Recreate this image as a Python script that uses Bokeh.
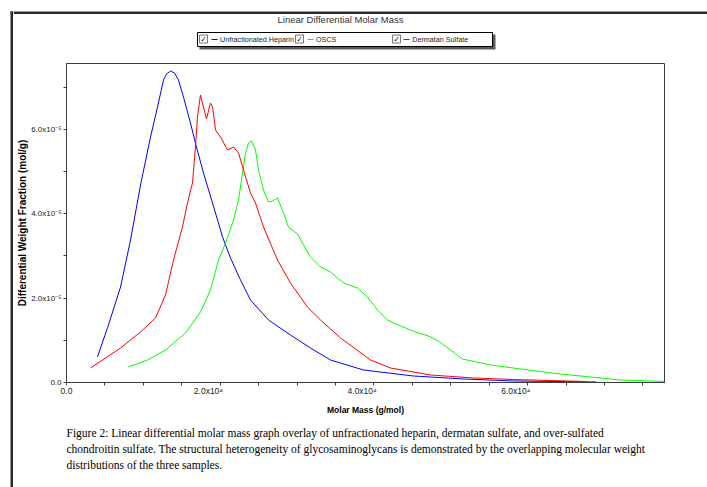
from bokeh.plotting import figure
from bokeh.models import Range1d, FixedTicker, Legend, LegendItem, Label, BoxAnnotation
from bokeh.layouts import row, column
from bokeh.embed import file_html
from bokeh.resources import INLINE

# ---------------- data (molar mass in g/mol, weight fraction in units of 1e-5 mol/g) ----------------
heparin_mm = [4030, 5460, 7030, 8330, 9630, 10930, 11840, 12620, 13010, 13530, 14050, 14570,
              15220, 16130, 16910, 17820, 19000, 20300, 21340, 22640, 23940, 26280, 29140,
              31740, 34350, 38640, 45150, 51650, 58160, 63620, 68950]
heparin_dw = [0.604, 1.363, 2.263, 3.377, 4.680, 5.818, 6.528, 7.168, 7.310, 7.382, 7.334, 7.168,
              6.765, 6.149, 5.581, 4.964, 4.254, 3.448, 2.950, 2.429, 1.955, 1.481, 1.126,
              0.818, 0.533, 0.296, 0.154, 0.083, 0.036, 0.024, 0.012]

oscs_mm = [8070, 10540, 12880, 15480, 17430, 18730, 19780, 20690, 21730, 22380, 22900, 23290,
           23680, 24070, 24590, 24980, 25630, 26280, 26800, 27450, 28230, 28880, 30050, 31740,
           33050, 34350, 36040, 37860, 39160, 40460, 41760, 43450, 45410, 47100, 48400, 49960,
           51520, 55160, 59070, 64270, 69470, 72080, 77800]
oscs_dw = [0.367, 0.533, 0.770, 1.173, 1.671, 2.192, 2.903, 3.306, 3.851, 4.325, 4.964, 5.438,
           5.675, 5.723, 5.509, 5.036, 4.562, 4.277, 4.301, 4.372, 4.017, 3.685, 3.519, 2.974,
           2.737, 2.618, 2.358, 2.239, 2.026, 1.718, 1.481, 1.339, 1.197, 1.102, 0.983, 0.770,
           0.557, 0.415, 0.320, 0.201, 0.107, 0.059, 0.024]

dermatan_mm = [3120, 5070, 7030, 9630, 11580, 12880, 13920, 15090, 15740, 16390, 16780, 17040,
               17430, 17820, 18210, 18730, 19000, 19390, 20040, 20950, 21730, 22380, 23030,
               23940, 24590, 25630, 27450, 29140, 31350, 33050, 35650, 39550, 42150, 47360,
               52950, 58160, 62970, 67520]
dermatan_dw = [0.344, 0.581, 0.818, 1.197, 1.528, 2.073, 2.903, 3.685, 4.254, 4.728, 5.581, 6.291,
               6.813, 6.528, 6.244, 6.623, 6.528, 5.983, 5.818, 5.509, 5.581, 5.438, 5.036,
               4.491, 4.254, 3.685, 2.903, 2.358, 1.789, 1.481, 1.055, 0.533, 0.344, 0.178,
               0.107, 0.071, 0.047, 0.024]

series_names = ["Unfractionated Heparin", "OSCS", "Dermatan Sulfate"]
series_colors = ["#0000ff", "#00ff00", "#ff0000"]

x_tick_values = [0, 20000, 40000, 60000]
x_tick_labels = ["0.0", "2.0x10\u2074", "4.0x10\u2074", "6.0x10\u2074"]
x_minor_step = 5000
y_tick_values = [0, 2, 4, 6]
y_tick_labels = ["0.0", "2.0x10\u207b\u2075", "4.0x10\u207b\u2075", "6.0x10\u207b\u2075"]
y_minor_values = [1, 3, 5, 7]

title_text = "Linear Differential Molar Mass"
x_title = "Molar Mass (g/mol)"
y_title = "Differential Weight Fraction (mol/g)"
caption_lines = [
    "Figure 2: Linear differential molar mass graph overlay of unfractionated heparin, dermatan sulfate, and over-sulfated",
    "chondroitin sulfate. The structural heterogeneity of glycosaminoglycans is demonstrated by the overlapping molecular weight",
    "distributions of the three samples.",
]

X_END = 77800
Y_END = 7.56

# ---------------- layout (page pixels) ----------------
SANS = "Liberation Sans"
SERIF = "Liberation Serif"
AX = "#3c3c3c"
TXT = "#222222"
FRAME_C = "#2a2a2a"
NB = "\u00a0"

PW, PH = 707, 487
BAR_W = 13                 # strip holding the left black rule
HEAD_H = 62                # title + legend strip
MAIN_H = 356               # plot strip (axes + curves)
CAP_H = PH - HEAD_H - MAIN_H
FL, FR, FT, FB = 66, 664, 63, 382   # plot frame in page px


def no_align(f):
    try:
        f.frame_align = False
    except Exception:
        pass


def deco_fig(w, h, x0, y0):
    """figure whose frame is the whole strip; data coords == page pixels"""
    f = figure(frame_width=w, frame_height=h, output_backend="svg", toolbar_location=None,
               x_range=Range1d(x0, x0 + w), y_range=Range1d(y0 + h, y0),
               x_axis_location=None, y_axis_location=None,
               min_border=0, min_border_left=0, min_border_right=0,
               min_border_top=0, min_border_bottom=0)
    no_align(f)
    f.grid.visible = False
    f.outline_line_color = None
    f.background_fill_color = "white"
    f.border_fill_color = "white"
    return f


def box(f, l, t, r, b, fill, line=None):
    f.add_layout(BoxAnnotation(left=l, right=r, top=t, bottom=b,
                               fill_color=fill, fill_alpha=1.0,
                               line_color=line if line else fill,
                               line_alpha=1.0 if line else 0.0, line_width=1))


def lab(f, x, y, text, size, align="left", font=SANS, color=TXT, style="normal"):
    f.add_layout(Label(x=x, y=y, text=text, text_align=align, text_baseline="middle",
                       text_font=font, text_font_size=size, text_color=color,
                       text_font_style=style))


# ---- left rule strip ----
bar = deco_fig(BAR_W, PH, 0, 0)
box(bar, 10, 11, 12.5, PH, FRAME_C)
box(bar, 10, 11, BAR_W, 13.5, FRAME_C)

# ---- header strip: title + legend ----
head = deco_fig(PW - BAR_W, HEAD_H, BAR_W, 0)
box(head, BAR_W, 11, PW, 13.5, FRAME_C)
lab(head, 340, 18.7, title_text, "9.5px", "center", color="#333333")
box(head, 199, 34, 495, 49, "#5a5a5a")
box(head, 197, 32, 492, 46, "white", "black")
chk_left = [199, 295, 392]
sample_left = [211, 307, 403]
for cl, sl, col in zip(chk_left, sample_left, series_colors):
    box(head, cl, 34.5, cl + 8, 42.5, "white", "#7a7a7a")
    lab(head, cl + 4, 38.7, "\u2713", "8px", "center", font="DejaVu Sans", color="black", style="bold")
    box(head, sl, 38.5, sl + 6, 39.5, col)
legend_lines = [head.line(x=[], y=[], line_color=c, line_width=1) for c in series_colors]
pads = [0, 27, 0]
legend = Legend(items=[LegendItem(label=n + NB * k, renderers=[r])
                       for n, k, r in zip(series_names, pads, legend_lines)],
                orientation="horizontal", location=(211 - BAR_W, HEAD_H - 44),
                padding=0, margin=0, spacing=13, label_standoff=3,
                glyph_width=6, glyph_height=10, label_height=10,
                label_text_font=SANS, label_text_font_size="7.2px", label_text_color=TXT,
                border_line_color=None, background_fill_alpha=0.0)
head.add_layout(legend)

# ---- main plot strip ----
p = figure(width=PW - BAR_W, height=MAIN_H, output_backend="svg", toolbar_location=None,
           x_range=Range1d(0, X_END), y_range=Range1d(0, Y_END),
           min_border_left=FL - BAR_W, min_border_right=PW - FR,
           min_border_top=FT - HEAD_H, min_border_bottom=HEAD_H + MAIN_H - FB)
no_align(p)
p.background_fill_color = "white"
p.border_fill_color = "white"
p.outline_line_color = AX
p.outline_line_width = 1
p.xgrid.visible = False
p.ygrid.visible = False

xa = p.xaxis[0]
xa.ticker = FixedTicker(ticks=x_tick_values,
                        minor_ticks=[v for v in range(0, X_END + 1, x_minor_step) if v not in x_tick_values])
xa.major_label_overrides = {v: (t + NB * 10 if i > 0 else t)
                            for i, (v, t) in enumerate(zip(x_tick_values, x_tick_labels))}
ya = p.yaxis[0]
ya.ticker = FixedTicker(ticks=y_tick_values, minor_ticks=y_minor_values)
ya.major_label_overrides = dict(zip(y_tick_values, y_tick_labels))
for ax in (xa, ya):
    ax.axis_line_color = AX
    ax.major_tick_line_color = AX
    ax.minor_tick_line_color = AX
    ax.major_tick_out = 3
    ax.major_tick_in = 0
    ax.minor_tick_out = 3
    ax.minor_tick_in = 0
    ax.major_label_text_font = SANS
    ax.major_label_text_color = TXT
    ax.axis_label_text_font = SANS
    ax.axis_label_text_font_style = "bold"
    ax.axis_label_text_color = "black"

xa.major_label_text_font_size = "8.5px"
xa.major_label_standoff = 0
xa.axis_label = x_title
xa.axis_label_text_font_size = "8.5px"
xa.axis_label_standoff = 6
ya.major_label_text_font_size = "8px"
ya.major_label_standoff = 2
ya.axis_label = y_title
ya.axis_label_text_font_size = "10px"
ya.axis_label_standoff = 0

for mm, dw, col in zip([heparin_mm, oscs_mm, dermatan_mm],
                       [heparin_dw, oscs_dw, dermatan_dw], series_colors):
    p.line(mm, dw, line_color=col, line_width=1)

# ---- caption strip ----
cap = deco_fig(PW - BAR_W, CAP_H, BAR_W, HEAD_H + MAIN_H)
for i, line in enumerate(caption_lines):
    lab(cap, 66, 432 + 16 * i, line, "11.5px", "left", font=SERIF, color="black")

layout = row(bar, column(head, p, cap, spacing=0), spacing=0)
open("out.html", "w").write(file_html(layout, INLINE))
